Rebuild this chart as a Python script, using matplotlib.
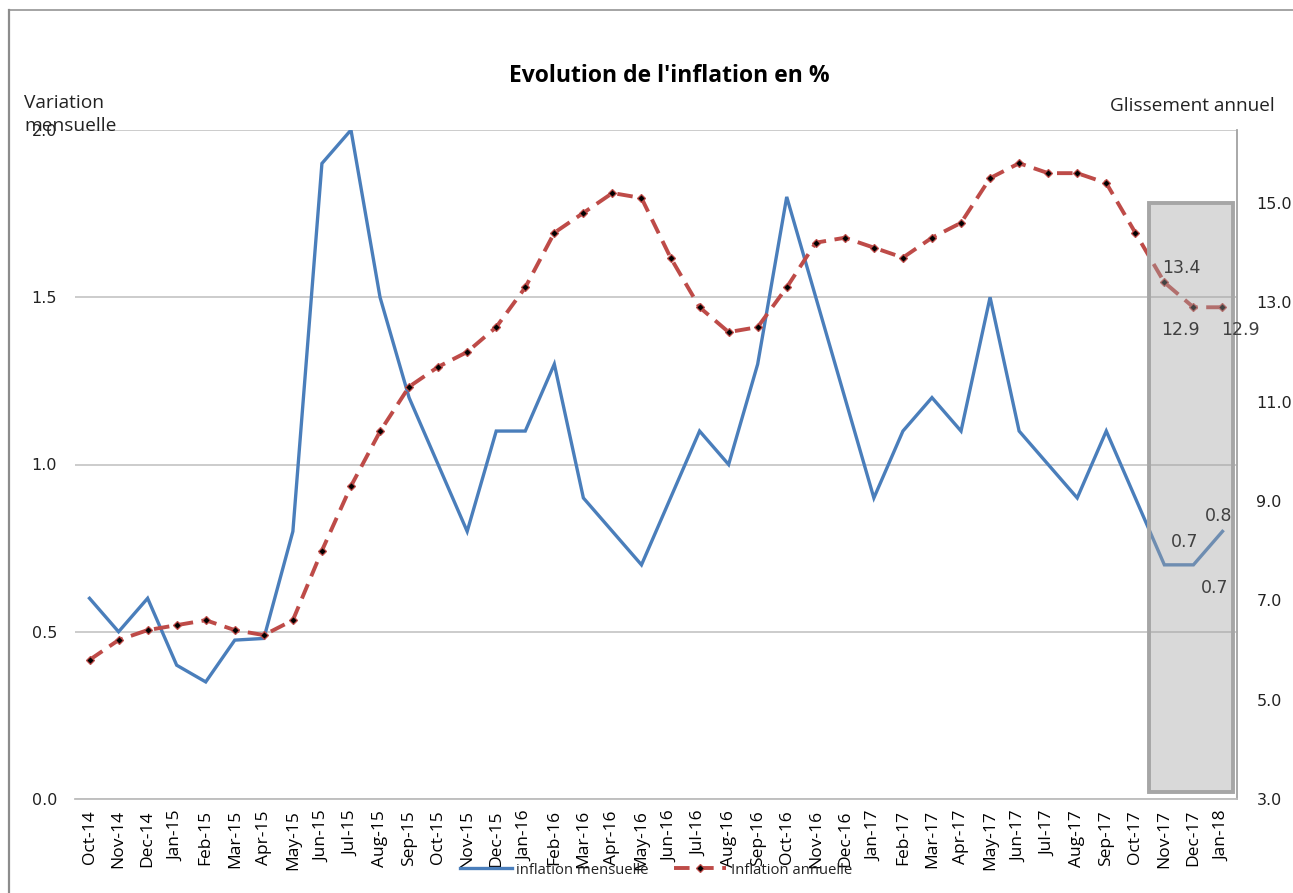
import matplotlib
matplotlib.use("Agg")
import matplotlib.pyplot as plt
from matplotlib.lines import Line2D
from matplotlib.patches import Rectangle

months = ["Oct-14", "Nov-14", "Dec-14",
          "Jan-15", "Feb-15", "Mar-15", "Apr-15", "May-15", "Jun-15", "Jul-15", "Aug-15",
          "Sep-15", "Oct-15", "Nov-15", "Dec-15",
          "Jan-16", "Feb-16", "Mar-16", "Apr-16", "May-16", "Jun-16", "Jul-16", "Aug-16",
          "Sep-16", "Oct-16", "Nov-16", "Dec-16",
          "Jan-17", "Feb-17", "Mar-17", "Apr-17", "May-17", "Jun-17", "Jul-17", "Aug-17",
          "Sep-17", "Oct-17", "Nov-17", "Dec-17", "Jan-18"]

inflation_mensuelle = [0.6, 0.5, 0.6,
                       0.4, 0.35, 0.475, 0.48, 0.8, 1.9, 2.0, 1.5,
                       1.2, 1.0, 0.8, 1.1,
                       1.1, 1.3, 0.9, 0.8, 0.7, 0.9, 1.1, 1.0,
                       1.3, 1.8, 1.5, 1.2,
                       0.9, 1.1, 1.2, 1.1, 1.5, 1.1, 1.0, 0.9,
                       1.1, 0.9, 0.7, 0.7, 0.8]

inflation_annuelle = [5.8, 6.2, 6.4,
                      6.5, 6.6, 6.4, 6.3, 6.6, 8.0, 9.3, 10.4,
                      11.3, 11.7, 12.0, 12.5,
                      13.3, 14.4, 14.8, 15.2, 15.1, 13.9, 12.9, 12.4,
                      12.5, 13.3, 14.2, 14.3,
                      14.1, 13.9, 14.3, 14.6, 15.5, 15.8, 15.6, 15.6,
                      15.4, 14.4, 13.4, 12.9, 12.9]

left_ticks = [0.0, 0.5, 1.0, 1.5, 2.0]
right_ticks = [3.0, 5.0, 7.0, 9.0, 11.0, 13.0, 15.0]

W, H = 1293, 893
fig = plt.figure(figsize=(W / 100, H / 100), dpi=100)
ax1 = fig.add_axes([75 / W, 1 - 799 / H, (1237 - 75) / W, (799 - 130) / H])
ax2 = ax1.twinx()

x = list(range(len(months)))
blue = "#4a7ebb"
red = "#be4b48"
grid_c = "#bfbfbf"

ax1.plot(x, inflation_mensuelle, color=blue, lw=2.4, zorder=2, solid_joinstyle="miter")
ax2.plot(x, inflation_annuelle, color=red, lw=2.8, dashes=(4.0, 2.2), zorder=2,
         marker="D", markersize=4.2, markerfacecolor="black",
         markeredgecolor=red, markeredgewidth=0.9)

ax1.set_xlim(-0.5, len(months) - 0.5)
ax1.set_ylim(0, 2.0)
ax2.set_ylim(3.0, 3.0 + 669 / 49.67)

ax1.set_yticks(left_ticks)
ax1.set_yticklabels([f"{v:.1f}" for v in left_ticks])
ax2.set_yticks(right_ticks)
ax2.set_yticklabels([f"{v:.1f}" for v in right_ticks])
ax1.set_xticks(x)
ax1.set_xticklabels(months, rotation=90, fontfamily="Open Sans", fontsize=12.5)

for lbl in ax1.get_yticklabels() + ax2.get_yticklabels():
    lbl.set_fontfamily("DejaVu Sans")
    lbl.set_fontsize(11.5)
    lbl.set_color("#222222")

ax1.tick_params(axis="y", length=0, pad=13)
ax2.tick_params(axis="y", length=0, pad=14)
ax1.tick_params(axis="x", length=0, pad=8)

ax1.yaxis.grid(True, color=grid_c, lw=1.1)
ax1.set_axisbelow(True)
for ax in (ax1, ax2):
    for s in ("left", "top"):
        ax.spines[s].set_visible(False)
    ax.spines["bottom"].set_color(grid_c)
    ax.spines["bottom"].set_linewidth(1.1)
    ax.spines["right"].set_color("#a6a6a6")
    ax.spines["right"].set_linewidth(1.1)

# shaded highlight box
box = Rectangle((36.48, 3.14), 39.37 - 36.48, 15.0 - 3.14,
                facecolor=(0.64, 0.64, 0.64, 0.41), edgecolor="#a6a6a6",
                lw=2.8, zorder=3)
ax2.add_patch(box)

lab_c = "#404040"
ann = dict(textcoords="offset pixels", fontsize=12.5, color=lab_c,
           fontfamily="DejaVu Sans", ha="center", va="center", zorder=6)
ax2.annotate(f"{inflation_annuelle[37]:.1f}", (37, inflation_annuelle[37]), xytext=(17, 14), **ann)
ax2.annotate(f"{inflation_annuelle[38]:.1f}", (38, inflation_annuelle[38]), xytext=(-13, -23), **ann)
ax2.annotate(f"{inflation_annuelle[39]:.1f}", (39, inflation_annuelle[39]), xytext=(18, -23), **ann)
ax2.annotate(f"{inflation_mensuelle[37]:.1f}", (37, inflation_mensuelle[37]), xycoords=ax1.transData,
             xytext=(20, 23), **ann)
ax2.annotate(f"{inflation_mensuelle[38]:.1f}", (38, inflation_mensuelle[38]), xycoords=ax1.transData,
             xytext=(21, -23), **ann)
ax2.annotate(f"{inflation_mensuelle[39]:.1f}", (39, inflation_mensuelle[39]), xycoords=ax1.transData,
             xytext=(-4, 15), **ann)

# titles / labels
fig.text(669 / W, 1 - 64 / H, "Evolution de l'inflation en %", ha="center", va="top",
         fontsize=16.5, fontweight="bold", fontfamily="Open Sans", color="black")
fig.text(24 / W, 1 - 94 / H, "Variation\nmensuelle", ha="left", va="top",
         fontsize=13.8, fontfamily="Open Sans", color="#222222", linespacing=1.35)
fig.text(1110 / W, 1 - 97 / H, "Glissement annuel", ha="left", va="top",
         fontsize=13.7, fontfamily="Open Sans", color="#222222")

# legend
handles = [Line2D([], [], color=blue, lw=2.4),
           Line2D([], [], color=red, lw=2.8, dashes=(4.0, 2.2), marker="D",
                  markersize=4.2, markerfacecolor="black", markeredgecolor=red,
                  markeredgewidth=0.9)]
fig.legend(handles, ["inflation mensuelle", "Inflation annuelle"], ncol=2,
           loc="center", bbox_to_anchor=(656 / W, 1 - 870 / H), frameon=False,
           prop={"family": "Open Sans", "size": 10.7}, handlelength=3.5,
           handletextpad=0.3, columnspacing=1.7, labelcolor="#222222")

# figure border (left and top)
fig.add_artist(Line2D([8.5 / W, 8.5 / W], [0, 1 - 10 / H], transform=fig.transFigure,
                      color="#8c8c8c", lw=1.6))
fig.add_artist(Line2D([8.5 / W, 1], [1 - 10 / H, 1 - 10 / H], transform=fig.transFigure,
                      color="#8c8c8c", lw=1.1))

fig.savefig("out.png", dpi=100)
